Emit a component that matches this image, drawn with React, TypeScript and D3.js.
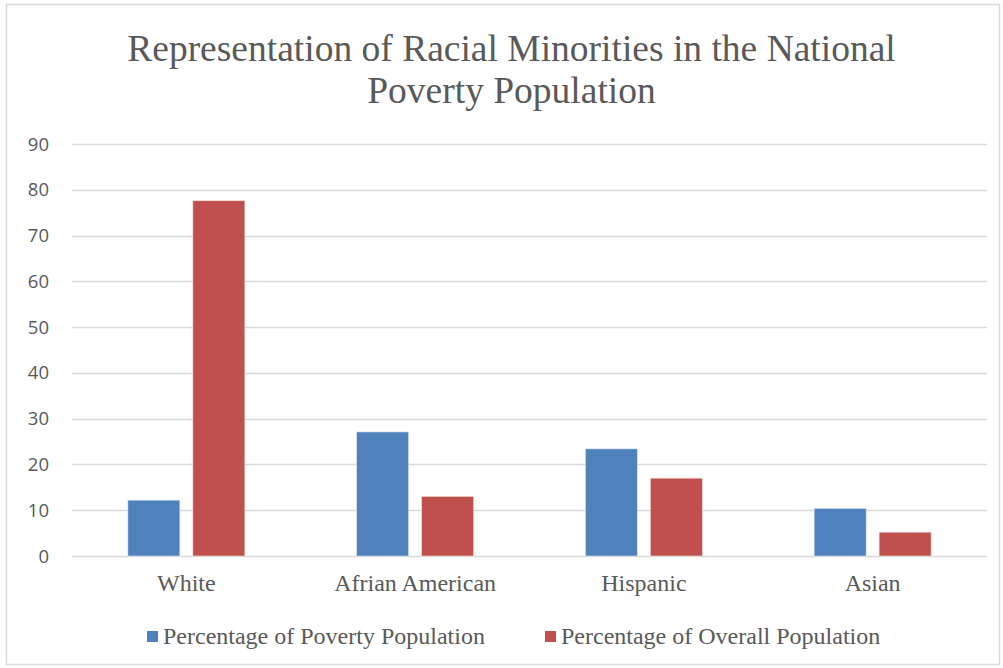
import React from "react";
import * as d3 from "d3";

const categories = ["White", "Afrian American", "Hispanic", "Asian"];
const povertyPct = [12.2, 27.1, 23.4, 10.4];
const overallPct = [77.6, 13.0, 17.0, 5.2];
const seriesNames = ["Percentage of Poverty Population", "Percentage of Overall Population"];
const yTicks = [0, 10, 20, 30, 40, 50, 60, 70, 80, 90];
const titleLines = ["Representation of Racial Minorities in the National", "Poverty Population"];

const W = 1003, H = 668;
const colors = ["#4F81BD", "#C0504D"];
const txt = "#595959";
const serif = "'Liberation Serif', 'Times New Roman', serif";
const sans = "'Open Sans', 'Liberation Sans', sans-serif";

export default function App() {
  const left = 72, right = 987, top = 144, bottom = 556;
  const x = d3.scaleBand<string>().domain(categories).range([left, right]).paddingInner(0).paddingOuter(0);
  const y = d3.scaleLinear().domain([0, 90]).range([bottom, top]);
  const inner = d3.scaleBand<number>().domain([0, 1]).range([0, x.bandwidth()]).paddingInner(0.2).paddingOuter(0.86);
  const series = [povertyPct, overallPct];
  return (
    <svg width={W} height={H} style={{ position: "absolute", left: 0, top: 0, background: "#fff" }}>
      <rect x={6.5} y={4.5} width={993} height={660} fill="#fff" stroke="#D9D9D9" strokeWidth={1.5} />
      {titleLines.map((t, i) => (
        <text key={i} x={511.5} y={61 + i * 42} textAnchor="middle" fontFamily={serif} fontSize={37.5} fill={txt}>{t}</text>
      ))}
      {yTicks.map((t) => (
        <g key={t}>
          <line x1={left} x2={right} y1={Math.round(y(t)) + 0.5} y2={Math.round(y(t)) + 0.5} stroke="#D9D9D9" strokeWidth={1.3} />
          <text x={49} y={y(t) + 6.5} textAnchor="end" fontFamily={sans} fontSize={18.5} fill={txt}>{t}</text>
        </g>
      ))}
      {categories.map((c, ci) => (
        <g key={c}>
          {series.map((s, si) => (
            <rect key={si} x={(x(c) as number) + (inner(si) as number)} y={y(s[ci])} width={inner.bandwidth()} height={y(0) - y(s[ci])} fill={colors[si]} stroke={si === 0 ? "#DCE6F2" : "#F2DCDB"} strokeWidth={0.6} />
          ))}
          <text x={(x(c) as number) + x.bandwidth() / 2} y={591} textAnchor="middle" fontFamily={serif} fontSize={24} fill={txt}>{c}</text>
        </g>
      ))}
      {seriesNames.map((n, i) => {
        const lx = i === 0 ? 147 : 545;
        return (
          <g key={n}>
            <rect x={lx} y={631} width={11} height={11} fill={colors[i]} />
            <text x={lx + 16} y={644} fontFamily={serif} fontSize={24} fill={txt}>{n}</text>
          </g>
        );
      })}
    </svg>
  );
}
